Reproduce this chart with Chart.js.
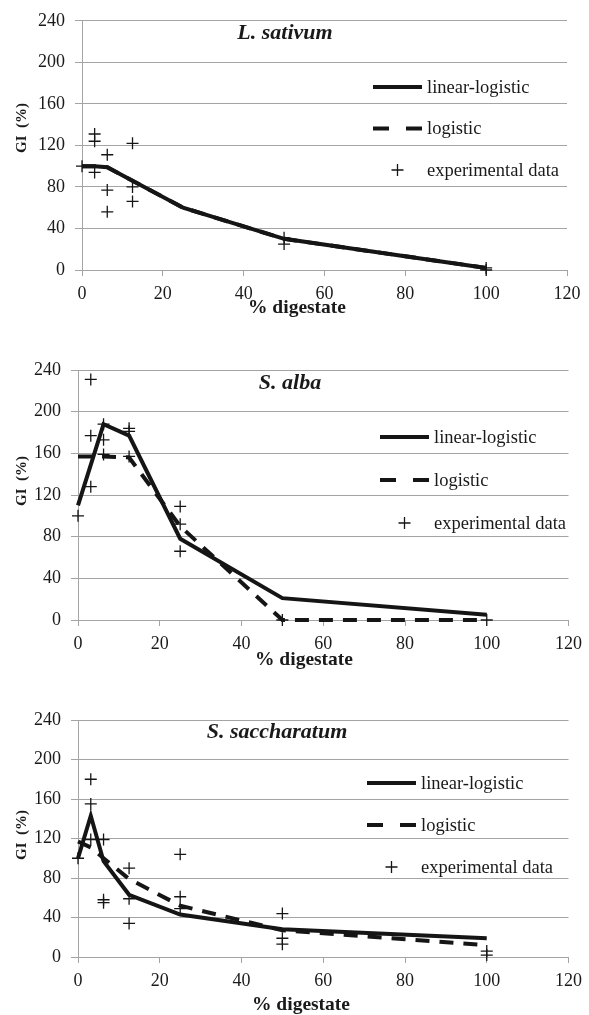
<!DOCTYPE html>
<html>
<head>
<meta charset="utf-8">
<script src="https://cdn.jsdelivr.net/npm/chart.js@4.4.1/dist/chart.umd.min.js"></script>
<style>
  html, body { margin: 0; padding: 0; background: #fff; }
  body { width: 589px; height: 1015px; position: relative; overflow: hidden; }
  canvas { position: absolute; left: 0; }
</style>
</head>
<body>
<canvas id="c1" width="589" height="325" style="top:0px"></canvas>
<canvas id="c2" width="589" height="345" style="top:330px"></canvas>
<canvas id="c3" width="589" height="335" style="top:680px"></canvas>
<script>
// ======================
// DATA
// ======================
const conc = [0, 3.125, 6.25, 12.5, 25, 50, 100];
const xTicks = [0, 20, 40, 60, 80, 100, 120];
const yTicks = [0, 40, 80, 120, 160, 200, 240];

// L. sativum
const sativumLinLog = [100, 100, 99, 86, 60, 30, 2];
const sativumLog = [100, 100, 99, 86, 60, 30, 2];
const sativumExpX = [0, 3.125, 3.125, 3.125, 6.25, 6.25, 6.25, 12.5, 12.5, 12.5, 50, 50, 100, 100];
const sativumExpY = [100, 131, 124, 94, 111, 77, 56, 122, 80, 66, 31, 25, 2, 0];

// S. alba
const albaLinLog = [110, 149, 188, 177, 78, 21, 5];
const albaLog = [157, 157, 157, 156, 90, 0, 0];
const albaExpX = [0, 3.125, 3.125, 3.125, 6.25, 6.25, 6.25, 12.5, 12.5, 12.5, 25, 25, 25, 50, 100];
const albaExpY = [100, 231, 177, 128, 188, 173, 159, 184, 181, 157, 109, 92, 66, 0, 0];

// S. saccharatum
const saccLinLog = [100, 143, 97, 63, 43, 28, 19];
const saccLog = [117, 111, 100, 79, 52, 27, 12];
const saccExpX = [0, 3.125, 3.125, 3.125, 6.25, 6.25, 6.25, 12.5, 12.5, 12.5, 25, 25, 25, 50, 50, 50, 100, 100];
const saccExpY = [100, 180, 155, 119, 119, 58, 55, 90, 59, 34, 104, 61, 49, 44, 19, 13, 6, 2];

// ======================
// STYLE
// ======================
const family = '"Liberation Serif", "Times New Roman", serif';
const gridColor = '#a4a4a4';
const textColor = '#1a1a1a';
const lineColor = '#151515';

function pts(xs, ys) {
  return xs.map((x, i) => ({ x: x, y: ys[i] }));
}

// panel title, axis titles and legend (Excel puts them off-centre)
const panelDecor = {
  id: 'panelDecor',
  afterDatasetsDraw(chart, args, opts) {
    const ctx = chart.ctx;
    ctx.save();
    ctx.fillStyle = textColor;
    ctx.textBaseline = 'middle';
    ctx.textAlign = 'center';

    ctx.font = 'italic bold 22px ' + family;
    ctx.fillText(opts.title, opts.titleX, opts.titleY);

    ctx.font = 'bold 19.5px ' + family;
    ctx.fillText('% digestate', opts.xTitleX, opts.xTitleY);

    ctx.save();
    ctx.translate(opts.yTitleX, opts.yTitleY);
    ctx.rotate(-Math.PI / 2);
    ctx.font = 'bold 15px ' + family;
    ctx.fillText('GI  (%)', 0, 0);
    ctx.restore();

    ctx.font = '18.5px ' + family;
    ctx.textAlign = 'left';
    chart.data.datasets.forEach((ds, i) => {
      const y = opts.legendY + i * opts.legendGap;
      const x0 = opts.legendX;
      const x1 = x0 + 49;
      ctx.strokeStyle = ds.borderColor;
      ctx.lineWidth = ds.borderWidth;
      if (ds.showLine) {
        ctx.setLineDash(ds.borderDash ? [16, 17] : []);
        ctx.beginPath();
        ctx.moveTo(x0, y);
        ctx.lineTo(x1, y);
        ctx.stroke();
        ctx.setLineDash([]);
      } else {
        const cx = (x0 + x1) / 2;
        const r = 6;
        ctx.beginPath();
        ctx.moveTo(cx - r, y);
        ctx.lineTo(cx + r, y);
        ctx.moveTo(cx, y - r);
        ctx.lineTo(cx, y + r);
        ctx.stroke();
      }
      ctx.fillText(ds.label, x1 + 5, y + 1);
    });
    ctx.restore();
  }
};

function makeChart(id, p) {
  return new Chart(document.getElementById(id), {
    type: 'scatter',
    data: {
      datasets: [
        {
          label: 'linear-logistic',
          data: pts(conc, p.linLog),
          showLine: true,
          borderColor: lineColor,
          borderWidth: 4,
          pointRadius: 0,
          tension: 0,
          clip: false
        },
        {
          label: 'logistic',
          data: pts(conc, p.log),
          showLine: true,
          borderColor: lineColor,
          borderWidth: 4,
          borderDash: [14, 10],
          pointRadius: 0,
          tension: 0,
          clip: false
        },
        {
          label: 'experimental data',
          data: pts(p.expX, p.expY),
          showLine: false,
          pointStyle: 'cross',
          pointRadius: 6,
          borderWidth: 1.3,
          borderColor: lineColor,
          backgroundColor: lineColor,
          clip: false
        }
      ]
    },
    options: {
      responsive: false,
      animation: false,
      layout: { padding: { top: p.padTop, right: p.padRight, left: 0, bottom: 0 } },
      plugins: {
        legend: { display: false },
        tooltip: { enabled: false },
        panelDecor: p.decor
      },
      scales: {
        x: {
          type: 'linear',
          min: xTicks[0],
          max: xTicks[xTicks.length - 1],
          afterBuildTicks: s => { s.ticks = xTicks.map(v => ({ value: v })); },
          afterFit: s => { s.height = p.xHeight; },
          grid: { drawOnChartArea: false, drawTicks: true, tickLength: 6, color: gridColor },
          border: { color: gridColor, width: 1 },
          ticks: { font: { family: family, size: 18 }, color: textColor, padding: 7, maxRotation: 0 }
        },
        y: {
          type: 'linear',
          min: yTicks[0],
          max: yTicks[yTicks.length - 1],
          afterBuildTicks: s => { s.ticks = yTicks.map(v => ({ value: v })); },
          afterFit: s => { s.width = p.yWidth; },
          grid: { color: gridColor, tickLength: 7 },
          border: { color: gridColor, width: 1 },
          ticks: { font: { family: family, size: 18 }, color: textColor, padding: 10 }
        }
      }
    },
    plugins: [panelDecor]
  });
}

// ======================
// PANELS
// ======================
makeChart('c1', {
  linLog: sativumLinLog, log: sativumLog, expX: sativumExpX, expY: sativumExpY,
  padTop: 19, padRight: 22, yWidth: 82, xHeight: 55,
  decor: {
    title: 'L. sativum', titleX: 285, titleY: 33,
    xTitleX: 297, xTitleY: 308, yTitleX: 22, yTitleY: 128,
    legendX: 373, legendY: 87, legendGap: 41.5
  }
});

makeChart('c2', {
  linLog: albaLinLog, log: albaLog, expX: albaExpX, expY: albaExpY,
  padTop: 40, padRight: 18, yWidth: 78, xHeight: 55,
  decor: {
    title: 'S. alba', titleX: 290, titleY: 53,
    xTitleX: 304, xTitleY: 330, yTitleX: 22, yTitleY: 151,
    legendX: 380, legendY: 107, legendGap: 43
  }
});

makeChart('c3', {
  linLog: saccLinLog, log: saccLog, expX: saccExpX, expY: saccExpY,
  padTop: 40, padRight: 15, yWidth: 78, xHeight: 58,
  decor: {
    title: 'S. saccharatum', titleX: 277, titleY: 52,
    xTitleX: 301, xTitleY: 325, yTitleX: 22, yTitleY: 155,
    legendX: 367, legendY: 103, legendGap: 42
  }
});
</script>
</body>
</html>
